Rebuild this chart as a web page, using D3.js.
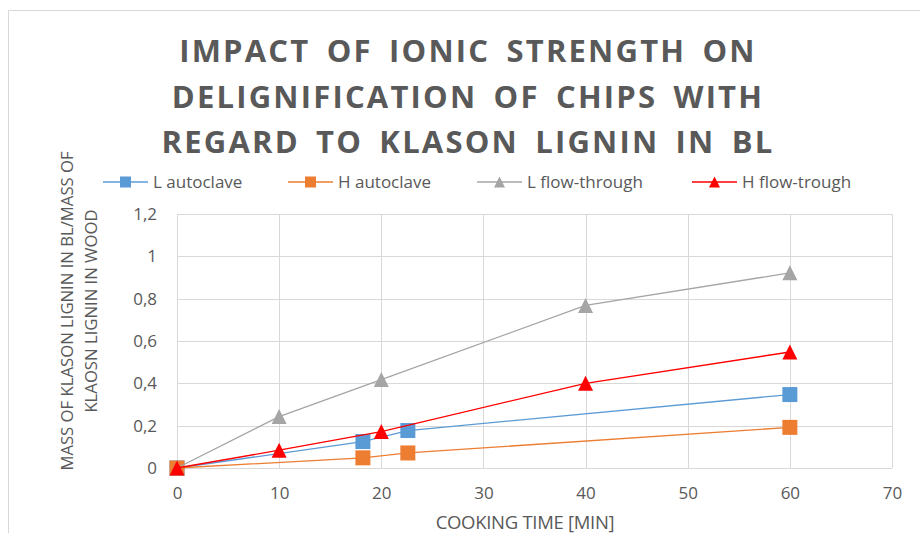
<!DOCTYPE html>
<html>
<head>
<meta charset="utf-8">
<script src="https://cdn.jsdelivr.net/npm/d3@7"></script>
<style>
  html, body { margin: 0; padding: 0; background: #fff; }
  svg { display: block; font-family: "Open Sans", "DejaVu Sans", sans-serif; }
</style>
</head>
<body>
<svg id="chart" width="920" height="533"></svg>
<script>
// Cooking time in minutes for each series
const lAutoclaveTime = [0, 18.2, 22.6, 60];
const lAutoclaveValue = [0, 0.125, 0.177, 0.347];

const hAutoclaveTime = [0, 18.2, 22.6, 60];
const hAutoclaveValue = [0, 0.048, 0.071, 0.192];

const lFlowTime = [0, 10, 20, 40, 60];
const lFlowValue = [0, 0.243, 0.418, 0.768, 0.922];

const hFlowTime = [0, 10, 20, 40, 60];
const hFlowValue = [0, 0.084, 0.172, 0.4, 0.548];

const seriesNames = ["L autoclave", "H autoclave", "L flow-through", "H flow-trough"];
const seriesColors = ["#5b9bd5", "#ed7d31", "#a5a5a5", "#ff0000"];
const seriesMarkers = ["square", "square", "triangle", "triangle"];

const xTicks = [0, 10, 20, 30, 40, 50, 60, 70];
const yTicks = [0, 0.2, 0.4, 0.6, 0.8, 1, 1.2];

const titleLines = [
  "IMPACT OF IONIC STRENGTH ON",
  "DELIGNIFICATION OF CHIPS WITH",
  "REGARD TO KLASON LIGNIN IN BL"
];
const yTitleLines = ["MASS OF KLASON LIGNIN IN BL/MASS OF", "KLAOSN LIGNIN IN WOOD"];
const xTitle = "COOKING TIME [MIN]";

const series = [
  { times: lAutoclaveTime, values: lAutoclaveValue },
  { times: hAutoclaveTime, values: hAutoclaveValue },
  { times: lFlowTime, values: lFlowValue },
  { times: hFlowTime, values: hFlowValue }
].map((s, i) => ({
  name: seriesNames[i],
  color: seriesColors[i],
  marker: seriesMarkers[i],
  points: s.times.map((t, j) => ({ x: t, y: s.values[j] }))
}));

const svg = d3.select("#chart");
const textColor = "#595959";
const gridColor = "#d9d9d9";

const plot = { left: 177, right: 892, top: 214, bottom: 468 };
const x = d3.scaleLinear().domain([0, 70]).range([plot.left, plot.right]);
const y = d3.scaleLinear().domain([0, 1.2]).range([plot.bottom, plot.top]);

// Chart frame
svg.append("path")
  .attr("d", "M8.5,533 V10.5 H920")
  .attr("fill", "none")
  .attr("stroke", gridColor)
  .attr("stroke-width", 1);

// Title
const title = svg.append("text")
  .attr("text-anchor", "middle")
  .attr("fill", textColor)
  .attr("font-weight", "bold")
  .attr("font-size", 31)
  .attr("letter-spacing", 2.2)
  .attr("word-spacing", 6);
titleLines.forEach((line, i) => {
  title.append("tspan").attr("x", 468).attr("y", 62 + i * 45.5).text(line);
});

// Gridlines
svg.append("g")
  .selectAll("line")
  .data(yTicks)
  .join("line")
  .attr("x1", plot.left).attr("x2", plot.right)
  .attr("y1", d => Math.round(y(d)) + 0.5).attr("y2", d => Math.round(y(d)) + 0.5)
  .attr("stroke", gridColor).attr("stroke-width", 1);

svg.append("g")
  .selectAll("line")
  .data(xTicks)
  .join("line")
  .attr("x1", d => Math.round(x(d)) + 0.5).attr("x2", d => Math.round(x(d)) + 0.5)
  .attr("y1", plot.top).attr("y2", plot.bottom)
  .attr("stroke", gridColor).attr("stroke-width", 1);

// Axes (labels only, lines come from the grid)
const fmt = d => d3.format(".1~f")(d).replace(".", ",");

const xAxis = svg.append("g")
  .attr("transform", `translate(0,${plot.bottom})`)
  .call(d3.axisBottom(x).tickValues(xTicks).tickSize(0).tickPadding(19).tickFormat(d3.format("d")));
const yAxis = svg.append("g")
  .attr("transform", `translate(${plot.left},0)`)
  .call(d3.axisLeft(y).tickValues(yTicks).tickSize(0).tickPadding(20).tickFormat(fmt));
[xAxis, yAxis].forEach(g => {
  g.select(".domain").remove();
  g.selectAll("text")
    .attr("fill", textColor)
    .attr("font-size", 17)
    .attr("font-family", "'Open Sans', sans-serif");
});

// Axis titles
svg.append("text")
  .attr("x", 525).attr("y", 529)
  .attr("text-anchor", "middle")
  .attr("fill", textColor)
  .attr("font-size", 18.5)
  .attr("letter-spacing", -0.3)
  .text(xTitle);

const yTitle = svg.append("text")
  .attr("transform", "translate(0,311) rotate(-90)")
  .attr("text-anchor", "middle")
  .attr("fill", textColor)
  .attr("font-size", 16.7);
yTitleLines.forEach((line, i) => {
  yTitle.append("tspan").attr("x", 0).attr("y", 73 + i * 24).text(line);
});

// Marker shapes
function drawMarker(g, type, cx, cy, color, size) {
  if (type === "square") {
    g.append("rect")
      .attr("x", cx - size / 2).attr("y", cy - size / 2)
      .attr("width", size).attr("height", size)
      .attr("fill", color);
  } else {
    g.append("path")
      .attr("d", `M${cx},${cy - size / 2} L${cx + size / 2},${cy + size / 2} L${cx - size / 2},${cy + size / 2} Z`)
      .attr("fill", color);
  }
}

// Series: line first, then its markers
const line = d3.line().x(d => x(d.x)).y(d => y(d.y));
series.forEach(s => {
  const g = svg.append("g");
  g.append("path")
    .datum(s.points)
    .attr("d", line)
    .attr("fill", "none")
    .attr("stroke", s.color)
    .attr("stroke-width", 1.3);
  s.points.forEach(p => drawMarker(g, s.marker, x(p.x), y(p.y), s.color, 15));
});

// Legend
const legendX = [103, 288, 477, 692];
const legend = svg.append("g");
series.forEach((s, i) => {
  const lx = legendX[i];
  const ly = 182;
  const g = legend.append("g");
  g.append("line")
    .attr("x1", lx).attr("x2", lx + 45)
    .attr("y1", ly).attr("y2", ly)
    .attr("stroke", s.color).attr("stroke-width", 1.3);
  drawMarker(g, s.marker, lx + 22.5, ly, s.color, 11);
  g.append("text")
    .attr("x", lx + 50).attr("y", ly + 6)
    .attr("fill", textColor)
    .attr("font-size", 17)
    .text(s.name);
});
</script>
</body>
</html>
